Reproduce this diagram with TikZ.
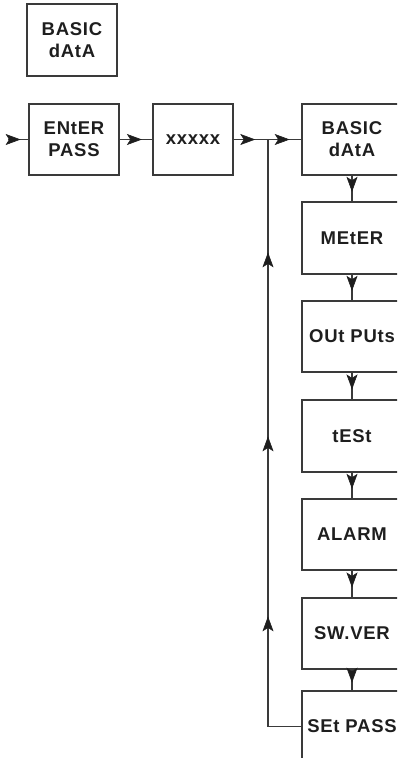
\documentclass[tikz,border=0pt]{standalone}
\usepackage{fontspec}
\setmainfont{Liberation Sans}[LetterSpace=4]
\usetikzlibrary{arrows.meta,decorations.markings}
\definecolor{ln}{HTML}{3A3A3A}
\definecolor{tx}{HTML}{1E1E1E}
\tikzset{
  box/.style={draw=ln,line width=1.3pt,rectangle,inner sep=0pt,align=center,
    font=\fontsize{18.5}{22}\selectfont\bfseries,text=tx},
  conn/.style={draw=ln,line width=1.3pt},
  hd/.tip={Stealth[length=15pt,width=11pt,inset=3.5pt,line width=0.6pt,fill=tx,color=tx]},
  tipmark/.style={postaction=decorate,decoration={markings,
    mark=at position #1 with {\arrow{hd}}}}
}
\begin{document}
\begin{tikzpicture}[x=1pt,y=-1pt]
\useasboundingbox (0,0) rectangle (397,758);
\clip (0,0) rectangle (397,758);
% left boxes
\node[box,minimum width=90,minimum height=72] (top) at (72,40) {BASIC\\dAtA};
\node[box,minimum width=90,minimum height=71] (enter) at (74,139.5) {ENtER\\PASS};
\node[box,minimum width=80,minimum height=71] (xx) at (193,139.5) {xxxxx};
% right column
\node[box,minimum width=100,minimum height=71] (b1) at (352,139.5) {BASIC\\dAtA};
\node[box,minimum width=100,minimum height=72] (b2) at (352,238) {MEtER};
\node[box,minimum width=100,minimum height=71] (b3) at (352,336.5) {OUt PUts};
\node[box,minimum width=100,minimum height=72] (b4) at (352,436) {tESt};
\node[box,minimum width=100,minimum height=71] (b5) at (352,534.5) {ALARM};
\node[box,minimum width=100,minimum height=71] (b6) at (352,633.5) {SW.VER};
\node[box,minimum width=100,minimum height=71] (b7) at (352,726.5) {SEt PASS};
\coordinate (in) at (8,139.5);
\coordinate (j) at (268,139.5);
% connectors
\draw[conn,tipmark=0.62] (in) -- (enter.west);
\draw[conn,tipmark=0.68] (enter.east) -- (xx.west);
\draw[conn,tipmark=0.63] (xx.east) -- (j);
\draw[conn,tipmark=0.65] (j) -- (b1.west);
\foreach \a/\b in {b1/b2,b2/b3,b3/b4,b4/b5,b5/b6,b6/b7}
  \draw[conn,tipmark=0.63] (\a.south) -- (\b.north);
\draw[conn,postaction=decorate,decoration={markings,
  mark=at position 143.5pt with {\arrow{hd}},
  mark=at position 323.5pt with {\arrow{hd}},
  mark=at position 507.5pt with {\arrow{hd}}}]
  (b7.west) -| (j);
\end{tikzpicture}
\end{document}
